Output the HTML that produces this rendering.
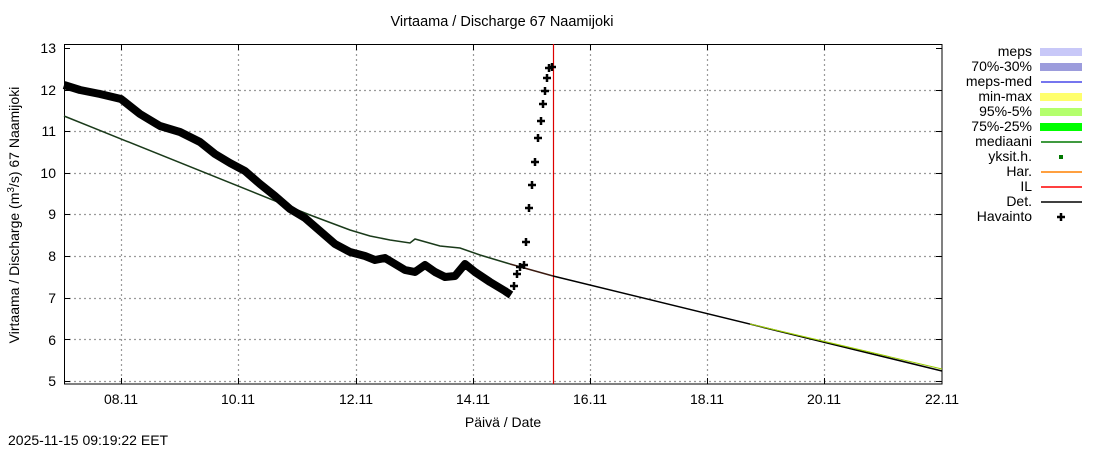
<!DOCTYPE html>
<html><head><meta charset="utf-8"><style>
body{margin:0;background:#fff;}
svg text{font-family:"Liberation Sans",sans-serif;fill:#000;}
</style></head><body>
<svg width="1100" height="450" viewBox="0 0 1100 450" xmlns="http://www.w3.org/2000/svg">
<rect width="1100" height="450" fill="#fff"/>
<text x="502" y="26" font-size="14.5" text-anchor="middle">Virtaama / Discharge  67 Naamijoki</text>
<g stroke="#9a9a9a" stroke-dasharray="2,3" stroke-width="1.2">
<line x1="64" x2="942" y1="90.5" y2="90.5"/><line x1="64" x2="942" y1="131.5" y2="131.5"/>
<line x1="64" x2="942" y1="173.5" y2="173.5"/><line x1="64" x2="942" y1="214.5" y2="214.5"/>
<line x1="64" x2="942" y1="256.5" y2="256.5"/><line x1="64" x2="942" y1="298.5" y2="298.5"/>
<line x1="64" x2="942" y1="339.5" y2="339.5"/><line x1="64" x2="942" y1="381.5" y2="381.5"/>
<line x1="121.5" x2="121.5" y1="44" y2="384"/><line x1="238.5" x2="238.5" y1="44" y2="384"/>
<line x1="356.5" x2="356.5" y1="44" y2="384"/><line x1="473.5" x2="473.5" y1="44" y2="384"/>
<line x1="590.5" x2="590.5" y1="44" y2="384"/><line x1="707.5" x2="707.5" y1="44" y2="384"/>
<line x1="824.5" x2="824.5" y1="44" y2="384"/>
</g>
<g stroke="#000" stroke-width="1">
<path d="M64,48.5h6M64,90.5h6M64,131.5h6M64,173.5h6M64,214.5h6M64,256.5h6M64,298.5h6M64,339.5h6M64,381.5h6"/>
<path d="M942,48.5h-6M942,90.5h-6M942,131.5h-6M942,173.5h-6M942,214.5h-6M942,256.5h-6M942,298.5h-6M942,339.5h-6M942,381.5h-6"/>
<path d="M121.5,384v-6M238.5,384v-6M356.5,384v-6M473.5,384v-6M590.5,384v-6M707.5,384v-6M824.5,384v-6"/>
<path d="M121.5,44v6M238.5,44v6M356.5,44v6M473.5,44v6M590.5,44v6M707.5,44v6M824.5,44v6"/>
</g>
<rect x="64.5" y="44.5" width="877.5" height="339.5" fill="none" stroke="#000"/>
<g font-size="14" text-anchor="end">
<text x="56" y="53">13</text><text x="56" y="95">12</text><text x="56" y="136">11</text>
<text x="56" y="178">10</text><text x="56" y="219">9</text><text x="56" y="261">8</text>
<text x="56" y="303">7</text><text x="56" y="345">6</text><text x="56" y="386">5</text>
</g>
<g font-size="14" text-anchor="middle">
<text x="121" y="404">08.11</text><text x="238" y="404">10.11</text><text x="356" y="404">12.11</text>
<text x="473" y="404">14.11</text><text x="590" y="404">16.11</text><text x="707" y="404">18.11</text>
<text x="824" y="404">20.11</text><text x="942" y="404">22.11</text>
<text x="503" y="427">Päivä / Date</text>
</g>
<text transform="translate(19,215) rotate(-90)" font-size="14" text-anchor="middle">Virtaama / Discharge (m<tspan font-size="10" dy="-5">3</tspan><tspan dy="5">/s)  67 Naamijoki</tspan></text>
<text x="8" y="445" font-size="14">2025-11-15 09:19:22 EET</text>
<line x1="553.5" x2="553.5" y1="44" y2="384" stroke="#d00" stroke-width="1.2"/>
<polyline fill="none" stroke="#1a3a1a" stroke-width="1.5" points="64,116 310,215 350,230 370,236 390,240 410,243 415,239 440,246 460,248 480,255 510,264"/>
<polyline fill="none" stroke="#3a1a10" stroke-width="1.5" points="510,264 553,276"/>
<polyline fill="none" stroke="#000" stroke-width="1.5" points="553,276 942,371"/>
<polyline fill="none" stroke="#9c0" stroke-width="1" points="750,324 942,369"/>
<polyline fill="none" stroke="#000" stroke-width="8" stroke-linejoin="round" points="64,85 80,90 100,94 121,99 140,114 160,126 180,132 200,142 215,154 230,163 245,171 260,184 275,196 290,209 305,218 320,231 335,244 350,252 365,256 375,260 385,258 395,264 405,270 415,272 425,265 435,272 445,277 455,276 465,264 475,272 490,282 505,291 511,295"/>
<g stroke="#000" stroke-width="2.5">
<path d="M514,282v8M510,286h8 M517,270v8M513,274h8 M520,263v8M516,267h8 M524,261v8M520,265h8 M526,238v8M522,242h8 M529,204v8M525,208h8 M532,181v8M528,185h8 M535,158v8M531,162h8 M538,134v8M534,138h8 M541,117v8M537,121h8 M543,100v8M539,104h8 M545,87v8M541,91h8 M547,74v8M543,78h8 M549,64v8M545,68h8 M552,63v8M548,67h8"/>
</g>
<g font-size="14" text-anchor="end">
<text x="1032" y="56">meps</text><text x="1032" y="71">70%-30%</text><text x="1032" y="86">meps-med</text>
<text x="1032" y="101">min-max</text><text x="1032" y="116">95%-5%</text><text x="1032" y="131">75%-25%</text>
<text x="1032" y="146">mediaani</text><text x="1032" y="161">yksit.h.</text><text x="1032" y="176">Har.</text>
<text x="1032" y="191">IL</text><text x="1032" y="206">Det.</text><text x="1032" y="221">Havainto</text>
</g>
<rect x="1040" y="48" width="42" height="8" fill="#c8c8f8"/>
<rect x="1040" y="63" width="42" height="8" fill="#9c9cdc"/>
<line x1="1041" x2="1082" y1="82" y2="82" stroke="#4848e8" stroke-width="1.5"/>
<rect x="1040" y="93" width="42" height="8" fill="#ffff6c"/>
<rect x="1040" y="108" width="42" height="8" fill="#b4ff6c"/>
<rect x="1040" y="123" width="42" height="8" fill="#00ff00"/>
<line x1="1041" x2="1082" y1="142" y2="142" stroke="#007800" stroke-width="1.5"/>
<rect x="1059" y="155" width="4" height="4" fill="#007800"/>
<line x1="1041" x2="1082" y1="172" y2="172" stroke="#ff8000" stroke-width="1.5"/>
<line x1="1041" x2="1082" y1="187" y2="187" stroke="#f00" stroke-width="1.5"/>
<line x1="1041" x2="1082" y1="202" y2="202" stroke="#000" stroke-width="1.5"/>
<path d="M1061,213v8M1057,217h8" stroke="#000" stroke-width="2.5"/>
</svg>
</body></html>
